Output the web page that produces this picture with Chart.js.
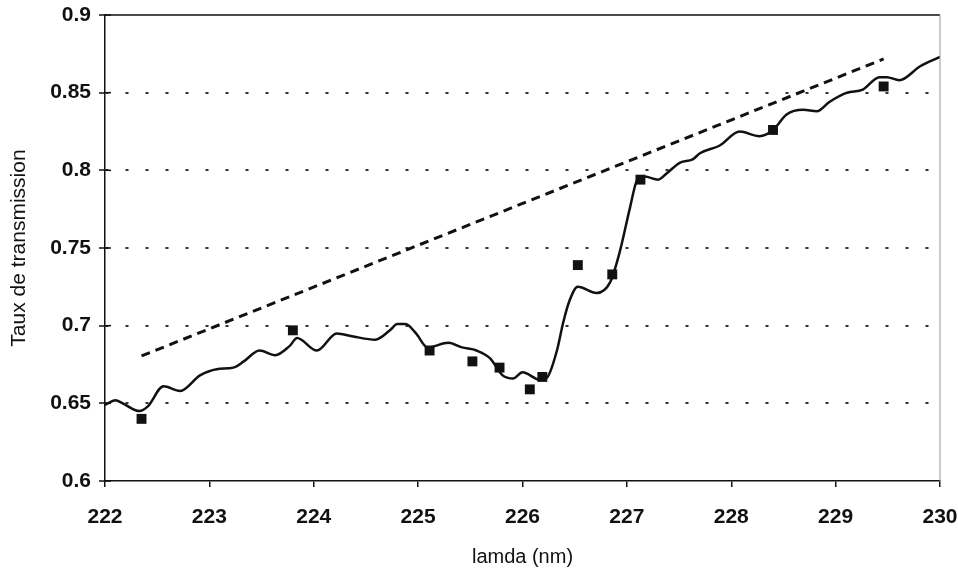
<!DOCTYPE html>
<html>
<head>
<meta charset="utf-8">
<script src="https://cdn.jsdelivr.net/npm/chart.js@4.4.0/dist/chart.umd.min.js"></script>
<style>
  html, body { margin: 0; padding: 0; background: #fff; }
  #wrap { width: 958px; height: 573px; }
</style>
</head>
<body>
<div id="wrap"><canvas id="MyChart1" width="958" height="573"></canvas></div>
<script>
// measured curve (lamda nm / transmission)
var curveX = [222.00, 222.10, 222.17, 222.33, 222.41, 222.56, 222.72, 222.91, 223.07, 223.23,
	223.33, 223.48, 223.63, 223.77, 223.84, 224.03, 224.22, 224.38, 224.59, 224.73,
	224.80, 224.88, 224.98, 225.09, 225.29, 225.42, 225.56, 225.69, 225.81, 225.91,
	226.00, 226.17, 226.24, 226.33, 226.39, 226.45, 226.53, 226.71, 226.84, 226.93,
	227.03, 227.10, 227.17, 227.30, 227.38, 227.51, 227.63, 227.70, 227.89, 228.08,
	228.27, 228.40, 228.53, 228.69, 228.82, 228.94, 229.11, 229.26, 229.42, 229.49,
	229.61, 229.81, 230.00];
var curveY = [0.649, 0.652, 0.650, 0.645, 0.648, 0.661, 0.658, 0.668, 0.672, 0.673,
	0.677, 0.684, 0.681, 0.687, 0.692, 0.684, 0.695, 0.693, 0.691, 0.697,
	0.701, 0.701, 0.695, 0.686, 0.689, 0.686, 0.684, 0.679, 0.668, 0.666,
	0.670, 0.665, 0.667, 0.684, 0.702, 0.716, 0.725, 0.721, 0.728, 0.747,
	0.776, 0.794, 0.796, 0.794, 0.798, 0.805, 0.807, 0.811, 0.816, 0.825,
	0.822, 0.826, 0.836, 0.839, 0.838, 0.844, 0.850, 0.852, 0.860, 0.860,
	0.858, 0.867, 0.873];

// square markers
var pointsX = [222.35, 223.80, 225.11, 225.52, 225.78, 226.07, 226.19, 226.53, 226.86, 227.13, 228.40, 229.46];
var pointsY = [0.640, 0.697, 0.684, 0.677, 0.673, 0.659, 0.667, 0.739, 0.733, 0.794, 0.826, 0.854];

// dashed straight line
var dashX = [222.35, 229.46];
var dashY = [0.6805, 0.8717];

var xTicks = [222, 223, 224, 225, 226, 227, 228, 229, 230];
var yTicks = [0.6, 0.65, 0.7, 0.75, 0.8, 0.85, 0.9];

function pairs(xs, ys) {
	var out = [];
	for (var i = 0; i < xs.length; i++) out.push({ x: xs[i], y: ys[i] });
	return out;
}

var frame = {
	id : 'frame',
	afterDraw : function(chart) {
		var ctx = chart.ctx, a = chart.chartArea, ys = chart.scales.y;
		ctx.save();
		// top border
		ctx.strokeStyle = '#111';
		ctx.lineWidth = 1.5;
		ctx.beginPath();
		ctx.moveTo(a.left, a.top);
		ctx.lineTo(a.right, a.top);
		ctx.stroke();
		// right border
		ctx.strokeStyle = '#999';
		ctx.lineWidth = 1;
		ctx.beginPath();
		ctx.moveTo(a.right, a.top);
		ctx.lineTo(a.right, a.bottom);
		ctx.stroke();
		// inner half of the y tick marks
		ctx.strokeStyle = '#111';
		ctx.lineWidth = 1.5;
		yTicks.forEach(function(v) {
			var py = ys.getPixelForValue(v);
			ctx.beginPath();
			ctx.moveTo(a.left, py);
			ctx.lineTo(a.left + 6, py);
			ctx.stroke();
		});
		ctx.restore();
	}
};

var tickFont = { family : 'Liberation Sans, Arial, sans-serif', size : 21, weight : 'bold' };

var ctx = document.getElementById('MyChart1').getContext('2d');
var chart = new Chart(ctx, {
	type : 'scatter',
	data : {
		datasets : [ {
			label : 'courbe',
			data : pairs(curveX, curveY),
			showLine : true,
			borderColor : '#111',
			borderWidth : 2.5,
			pointRadius : 0,
			tension : 0.4,
			cubicInterpolationMode : 'monotone'
		}, {
			label : 'mesures',
			data : pairs(pointsX, pointsY),
			showLine : false,
			pointStyle : 'rect',
			pointRadius : 7,
			backgroundColor : '#111',
			borderColor : '#111',
			borderWidth : 0
		}, {
			label : 'droite',
			data : pairs(dashX, dashY),
			showLine : true,
			borderColor : '#111',
			borderWidth : 3,
			borderDash : [ 9, 6 ],
			pointRadius : 0
		} ]
	},
	options : {
		responsive : false,
		animation : false,
		layout : { padding : 0 },
		plugins : { legend : { display : false }, tooltip : { enabled : false } },
		scales : {
			x : {
				type : 'linear',
				min : 222,
				max : 230,
				afterFit : function(s) { s.height = 92; s.paddingLeft = 0; s.paddingRight = 18; },
				afterBuildTicks : function(s) { s.ticks = xTicks.map(function(v) { return { value : v }; }); },
				border : { color : '#111', width : 1.5 },
				grid : { drawOnChartArea : false, color : '#111', tickLength : 6, lineWidth : 1.5 },
				ticks : { color : '#111', font : tickFont, padding : 18, maxRotation : 0 },
				title : {
					display : true, text : 'lamda (nm)', color : '#111',
					font : { family : 'Liberation Sans, Arial, sans-serif', size : 20 },
					padding : { top : 0, bottom : 4 }
				}
			},
			y : {
				type : 'linear',
				min : 0.6,
				max : 0.9,
				afterFit : function(s) { s.width = 105; s.paddingTop = 15; s.paddingBottom = 0; },
				afterBuildTicks : function(s) { s.ticks = yTicks.map(function(v) { return { value : v }; }); },
				border : { color : '#111', width : 1.5, dash : [ 3, 17 ] },
				grid : {
					color : function(c) {
						var v = c.tick ? c.tick.value : 0;
						return (Math.abs(v - 0.6) < 1e-6 || Math.abs(v - 0.9) < 1e-6) ? 'rgba(0,0,0,0)' : '#333';
					},
					lineWidth : 2,
					tickLength : 6,
					tickColor : '#111',
					tickBorderDash : [],
					tickWidth : 1.5
				},
				ticks : {
					color : '#111',
					font : tickFont,
					padding : 8,
					callback : function(v) { return String(Math.round(v * 100) / 100); }
				},
				title : {
					display : true, text : 'Taux de transmission', color : '#111',
					font : { family : 'Liberation Sans, Arial, sans-serif', size : 21 },
					padding : { top : 7, bottom : 0 }
				}
			}
		}
	},
	plugins : [ frame ]
});
</script>
</body>
</html>
